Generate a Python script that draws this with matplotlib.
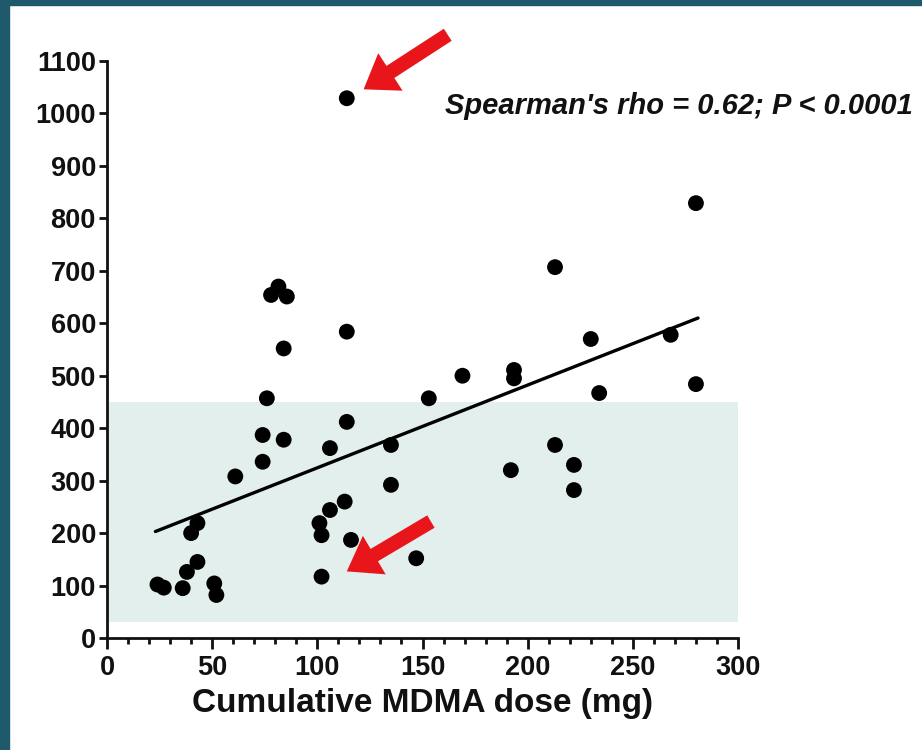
import matplotlib
matplotlib.use('Agg')
import matplotlib.pyplot as plt
from matplotlib.patches import Rectangle
from matplotlib.ticker import MultipleLocator

plt.rcParams['font.family'] = ['Liberation Sans', 'DejaVu Sans']

# points
dose = [24, 27, 36, 38, 43, 40, 43, 51, 52, 61, 74, 74, 76, 84, 78, 81.5, 85.5, 84,
        102, 102, 101, 106, 106, 113, 114, 114, 116, 114, 135, 135, 147, 153, 169,
        192, 193.5, 193.5, 213, 213, 222, 222, 230, 234, 268, 280, 280]
value = [102, 96, 95, 126, 145, 200, 219, 104, 82, 308, 336, 387, 457, 378, 654, 670, 651, 552,
         117, 196, 219, 244, 362, 260, 412, 584, 187, 1029, 368, 292, 152, 457, 500,
         320, 511, 495, 707, 368, 330, 282, 570, 467, 578, 829, 484]

fit_x = [23, 281]
fit_y = [203, 610]

shade_x = [1, 300]
shade_y = [30, 450]

# red arrows: (tail, head)
arrows = [((162, 1150), (122, 1046)),
          ((154, 222), (114, 127))]

xticks = [0, 50, 100, 150, 200, 250, 300]
yticks = list(range(0, 1101, 100))

fig = plt.figure(figsize=(9.22, 7.5), dpi=100)
fig.patch.set_facecolor('white')
# dark frame on the left and top edge
fig.patches.append(Rectangle((0, 0), 9 / 922, 1, transform=fig.transFigure,
                             color='#1e5a6c', zorder=0))
fig.patches.append(Rectangle((0, 1 - 5 / 750), 1, 5 / 750, transform=fig.transFigure,
                             color='#1e5a6c', zorder=0))

ax = fig.add_axes([107 / 922, 112 / 750, 631 / 922, 577 / 750])
ax.set_facecolor('white')

ax.add_patch(Rectangle((shade_x[0], shade_y[0]), shade_x[1] - shade_x[0],
                       shade_y[1] - shade_y[0], color='#e2efed', lw=0, zorder=0))

ax.plot(fit_x, fit_y, color='black', lw=2.4, zorder=2, solid_capstyle='round')
ax.scatter(dose, value, s=130, color='black', edgecolors='none', zorder=3, clip_on=False)

for (tx, ty), (hx, hy) in arrows:
    ax.annotate('', xy=(hx, hy), xytext=(tx, ty), annotation_clip=False,
                arrowprops=dict(arrowstyle='simple,head_length=1.0,head_width=1.4,tail_width=0.45',
                                color='#e8161b', lw=0, mutation_scale=23, shrinkA=0, shrinkB=0))

ax.text(160.5, 1014, "Spearman's rho = 0.62; P < 0.0001", fontsize=21,
        fontweight='bold', fontstyle='italic', ha='left', va='center', color='#111111')

ax.set_xlim(0, 300)
ax.set_ylim(0, 1100)
ax.set_xticks(xticks)
ax.set_yticks(yticks)
ax.xaxis.set_minor_locator(MultipleLocator(10))

for s in ['top', 'right']:
    ax.spines[s].set_visible(False)
for s in ['left', 'bottom']:
    ax.spines[s].set_linewidth(2)
    ax.spines[s].set_color('#111111')

ax.tick_params(axis='both', which='major', length=6, width=2, color='#111111',
               labelsize=19.5, pad=2)
ax.tick_params(axis='x', which='major', length=8, pad=4)
ax.tick_params(axis='x', which='minor', length=4, width=2, color='#111111')
for lab in ax.get_xticklabels() + ax.get_yticklabels():
    lab.set_fontweight('bold')
    lab.set_color('#111111')

ax.set_xlabel('Cumulative MDMA dose (mg)', fontsize=24, fontweight='bold',
              color='#111111', labelpad=5)

fig.savefig('out.png', dpi=100)
